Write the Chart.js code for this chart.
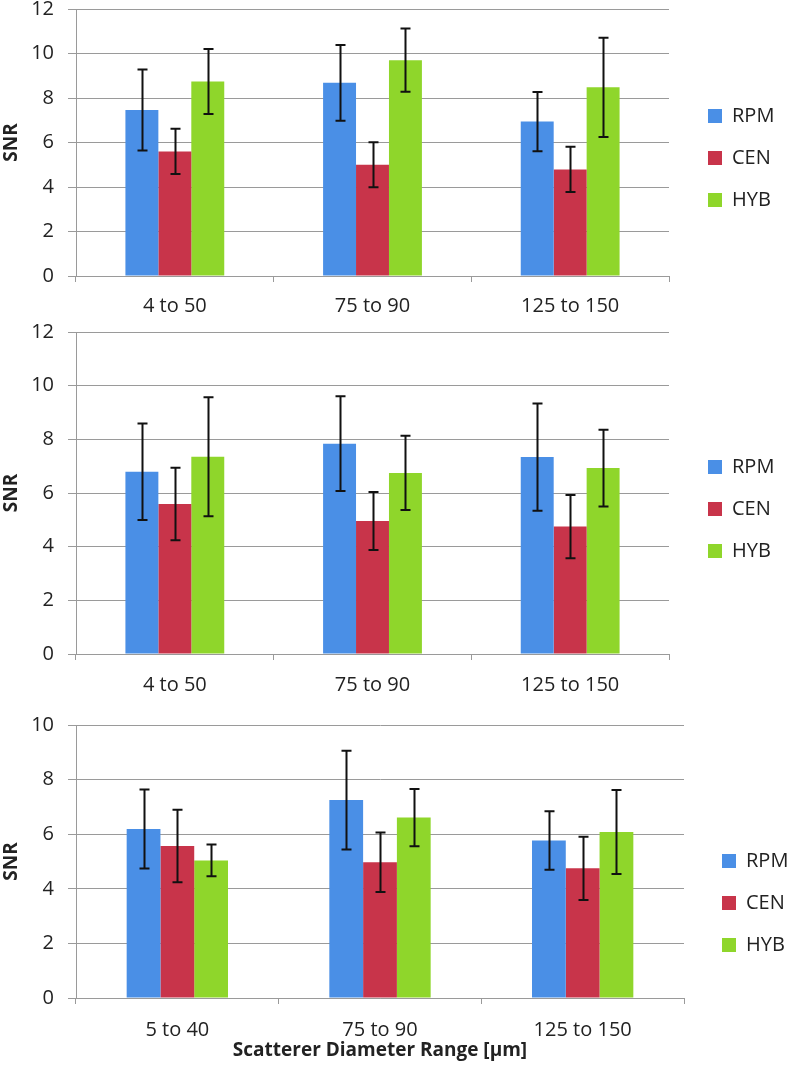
<!DOCTYPE html>
<html><head><meta charset="utf-8">
<script src="https://cdn.jsdelivr.net/npm/chart.js@4.4.1/dist/chart.umd.min.js"></script>
<style>
html,body{margin:0;padding:0;background:#fff;}
body{width:793px;height:1079px;position:relative;overflow:hidden;}
canvas{position:absolute;left:0;}
</style></head><body>
<canvas id="c1" width="793" height="350"></canvas>
<canvas id="c2" width="793" height="406"></canvas>
<canvas id="c3" width="793" height="408"></canvas>
<script>
// ---- data ----
const seriesNames = ["RPM", "CEN", "HYB"];
const categoriesA = ["4 to 50", "75 to 90", "125 to 150"];
const categoriesB = ["5 to 40", "75 to 90", "125 to 150"];
const yTicksA = [0, 2, 4, 6, 8, 10, 12];
const yTicksB = [0, 2, 4, 6, 8, 10];

// panel 1
const p1RPM = [7.46, 8.68, 6.94];
const p1RPMerr = [1.82, 1.70, 1.33];
const p1CEN = [5.60, 5.00, 4.79];
const p1CENerr = [1.02, 1.01, 1.02];
const p1HYB = [8.74, 9.70, 8.48];
const p1HYBerr = [1.46, 1.42, 2.23];
// panel 2
const p2RPM = [6.79, 7.84, 7.34];
const p2RPMerr = [1.80, 1.77, 2.00];
const p2CEN = [5.59, 4.96, 4.75];
const p2CENerr = [1.35, 1.08, 1.18];
const p2HYB = [7.35, 6.75, 6.93];
const p2HYBerr = [2.22, 1.38, 1.43];
// panel 3
const p3RPM = [6.19, 7.25, 5.77];
const p3RPMerr = [1.45, 1.81, 1.07];
const p3CEN = [5.57, 4.97, 4.75];
const p3CENerr = [1.33, 1.09, 1.16];
const p3HYB = [5.04, 6.61, 6.08];
const p3HYBerr = [0.58, 1.05, 1.54];

const xTitle = "Scatterer Diameter Range [µm]";
const yTitle = "SNR";

// ---- styling ----
const colors = ["#4A8FE6", "#C8344A", "#8FD62B"];
const FONT = "'Open Sans', sans-serif";
Chart.defaults.font.family = FONT;
Chart.defaults.color = "#222";
const GRID = "#9a9a9a";

const errorBars = {
  id: 'errorBars',
  afterDatasetsDraw(chart) {
    const ctx = chart.ctx, y = chart.scales.y;
    chart.data.datasets.forEach((ds, i) => {
      const meta = chart.getDatasetMeta(i);
      meta.data.forEach((bar, j) => {
        const v = ds.data[j], e = ds.errors[j];
        const yt = y.getPixelForValue(v + e), yb = y.getPixelForValue(v - e);
        const x = Math.round(bar.x) + 0.5;
        ctx.save();
        ctx.strokeStyle = "#111";
        ctx.lineWidth = 2;
        ctx.beginPath();
        ctx.moveTo(x, yt); ctx.lineTo(x, yb);
        ctx.moveTo(x - 5, yt); ctx.lineTo(x + 5, yt);
        ctx.moveTo(x - 5, yb); ctx.lineTo(x + 5, yb);
        ctx.stroke();
        ctx.restore();
      });
    });
  }
};

function makeChart(id, top, cats, vals, errs, yMax, yTicks, opts) {
  const el = document.getElementById(id);
  el.style.top = top + "px";
  return new Chart(el, {
    type: 'bar',
    data: {
      labels: cats,
      datasets: seriesNames.map((n, i) => ({
        label: n, data: vals[i], errors: errs[i],
        backgroundColor: colors[i], borderWidth: 0,
        categoryPercentage: 0.5, barPercentage: 1.0
      }))
    },
    options: {
      responsive: false, animation: false,
      layout: { padding: { left: 0, top: 0, bottom: 0, right: opts.padRight } },
      plugins: {
        legend: {
          position: 'right', maxWidth: 93,
          labels: { boxWidth: 14, boxHeight: 14, padding: 22, color: "#222",
                    font: { size: 20, family: FONT } }
        },
        tooltip: { enabled: false }
      },
      scales: {
        x: {
          grid: { offset: true, drawOnChartArea: false, tickLength: 6, color: GRID, lineWidth: 1 },
          border: { color: GRID },
          ticks: { padding: opts.xPad, color: "#222", font: { size: 20, family: FONT } },
          title: opts.xTitle ? { display: true, text: opts.xTitle, color: "#222",
                   font: { size: 19, weight: 'bold', family: FONT }, padding: { top: 0, bottom: 45 } } : { display: false },
          afterFit(s) { s.height = opts.hx; }
        },
        y: {
          min: 0, max: yMax,
          afterBuildTicks(s) { s.ticks = yTicks.map(v => ({ value: v })); },
          grid: { color: GRID, tickLength: 8, lineWidth: 1 },
          border: { color: GRID },
          ticks: { padding: 14, color: "#222", font: { size: 20, family: FONT } },
          title: { display: true, text: yTitle, color: "#222",
                   font: { size: 19, weight: 'bold', family: FONT }, padding: 0 },
          afterFit(s) { s.width = 76; }
        },
        yR: {
          type: 'linear', position: 'right', display: true,
          grid: { display: false }, border: { display: false }, ticks: { display: false },
          afterFit(s) { s.width = opts.spacer; }
        }
      }
    },
    plugins: [errorBars]
  });
}

makeChart('c1', -17, categoriesA, [p1RPM, p1CEN, p1HYB], [p1RPMerr, p1CENerr, p1HYBerr], 12, yTicksA,
  { padRight: 14, spacer: 17, hx: 57, xPad: 12 });
makeChart('c2', 306, categoriesA, [p2RPM, p2CEN, p2HYB], [p2RPMerr, p2CENerr, p2HYBerr], 12, yTicksA,
  { padRight: 14, spacer: 17, hx: 58, xPad: 13 });
makeChart('c3', 699, categoriesB, [p3RPM, p3CEN, p3HYB], [p3RPMerr, p3CENerr, p3HYBerr], 10, yTicksB,
  { padRight: 0, spacer: 16, hx: 109, xTitle: xTitle, xPad: 14 });
</script>
</body></html>
